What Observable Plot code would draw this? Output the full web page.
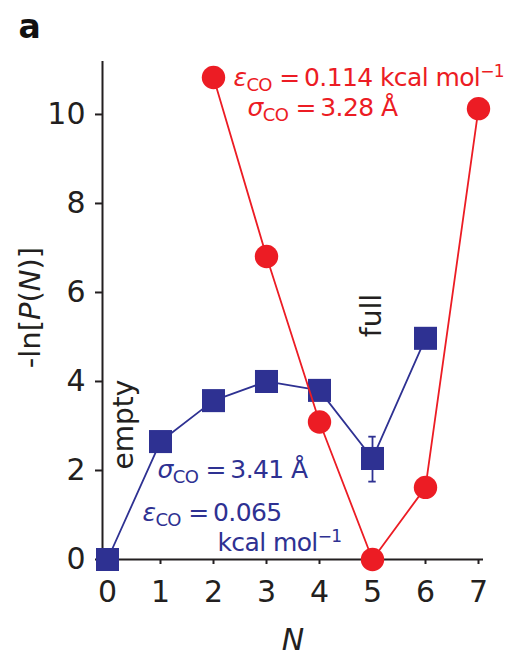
<!DOCTYPE html>
<html><head><meta charset="utf-8">
<script src="https://cdn.jsdelivr.net/npm/d3@7"></script>
<script src="https://cdn.jsdelivr.net/npm/@observablehq/plot@0.6"></script>
<style>html,body{margin:0;padding:0;background:#fff}svg{display:block}</style>
</head><body><div id="chart"></div>
<script>
// ---- data ----
const redN = [2, 3, 4, 5, 6, 7];
const redLnP = [10.83, 6.81, 3.09, 0.0, 1.62, 10.13];
const blueN = [0, 1, 2, 3, 4, 5, 6];
const blueLnP = [0.0, 2.65, 3.57, 4.0, 3.8, 2.27, 4.97];
const errN = [5];
const errLow = [1.75];
const errHigh = [2.76];
const xTicks = [0, 1, 2, 3, 4, 5, 6, 7];
const yTicks = [0, 2, 4, 6, 8, 10];
const redLabels = ["εCO = 0.114 kcal mol−1", "σCO = 3.28 Å"];
const blueLabels = ["σCO = 3.41 Å", "εCO = 0.065", "kcal mol−1"];
const stateLabels = ["empty", "full"];

// ---- styling ----
const RED = "#ec1c24", BLUE = "#2e3192", INK = "#231f20";
const FONT = "DejaVu Sans";

const red = redN.map((n, i) => ({N: n, v: redLnP[i]}));
const blue = blueN.map((n, i) => ({N: n, v: blueLnP[i]}));
const err = errN.map((n, i) => ({N: n, lo: errLow[i], hi: errHigh[i]}));

const xMin = -5 / 53, xMax = 7 + 5 / 53, yMax = 11.19;
const annot = {fontSize: 25, textAnchor: "start", lineAnchor: "bottom"};

const chart = Plot.plot({
  width: 518, height: 663,
  marginLeft: 102, marginRight: 35, marginTop: 61, marginBottom: 104,
  style: {fontFamily: FONT, background: "white", overflow: "visible"},
  x: {domain: [xMin, xMax]},
  y: {domain: [0, yMax]},
  marks: [
    Plot.axisY(yTicks, {tickSize: 7, tickPadding: 10, fontSize: 30, color: INK, strokeWidth: 2, label: null}),
    Plot.axisX(xTicks, {tickSize: 5, tickPadding: 16, fontSize: 30, color: INK, strokeWidth: 2, label: null}),
    Plot.ruleX([xMin], {stroke: INK, strokeWidth: 2}),
    Plot.ruleY([0], {stroke: INK, strokeWidth: 2}),
    // blue series
    Plot.line(blue, {x: "N", y: "v", stroke: BLUE, strokeWidth: 1.8}),
    Plot.ruleX(err, {x: "N", y1: "lo", y2: "hi", stroke: BLUE, strokeWidth: 1.8}),
    Plot.ruleY(err, {y: "lo", x1: d => d.N - 0.07, x2: d => d.N + 0.07, stroke: BLUE, strokeWidth: 1.8}),
    Plot.ruleY(err, {y: "hi", x1: d => d.N - 0.07, x2: d => d.N + 0.07, stroke: BLUE, strokeWidth: 1.8}),
    Plot.dot(blue, {x: "N", y: "v", symbol: "square", r: 13, fill: BLUE, stroke: null}),
    // red series
    Plot.line(red, {x: "N", y: "v", stroke: RED, strokeWidth: 1.8}),
    Plot.dot(red, {x: "N", y: "v", r: 11.7, fill: RED, stroke: null}),
    // annotations
    Plot.text([redLabels[0]], {x: 2.377, y: 10.65, text: d => d, fill: RED, ...annot}),
    Plot.text([redLabels[1]], {x: 2.64, y: 9.955, text: d => d, fill: RED, ...annot}),
    Plot.text([blueLabels[0]], {x: 0.943, y: 1.84, text: d => d, fill: BLUE, ...annot}),
    Plot.text([blueLabels[1]], {x: 0.66, y: 0.865, text: d => d, fill: BLUE, ...annot}),
    Plot.text([blueLabels[2]], {x: 2.075, y: 0.20, text: d => d, fill: BLUE, ...annot}),
    Plot.text([stateLabels[0]], {x: 0.31, y: 3.03, text: d => d, fill: INK, fontSize: 28, rotate: -90, textAnchor: "middle", lineAnchor: "middle"}),
    Plot.text([stateLabels[1]], {x: 5.0, y: 5.48, text: d => d, fill: INK, fontSize: 28, rotate: -90, textAnchor: "middle", lineAnchor: "middle"}),
    // axis titles and panel letter
    Plot.text(["N"], {frameAnchor: "bottom", dy: 81, text: d => d, fontSize: 30, fontStyle: "italic", fill: INK, lineAnchor: "middle"}),
    Plot.text(["-ln[P(N)]"], {frameAnchor: "left", dx: -72, dy: -3, rotate: -90, text: d => d, fontSize: 29, fill: INK, textAnchor: "middle", lineAnchor: "middle"}),
    Plot.text(["a"], {frameAnchor: "top-left", dx: -84, dy: -24, text: d => d, fontSize: 33, fontWeight: "bold", fill: "#111", textAnchor: "start", lineAnchor: "bottom"})
  ]
});

// rich-text formatting (italic symbols, subscripts, superscripts)
const richMap = {
  "εCO = 0.114 kcal mol−1": [["ε", "i"], ["CO", "sub"], [" =\u2009", ""], ["0.114 kcal mol", ""], ["−1", "sup"]],
  "σCO = 3.28 Å": [["σ", "i"], ["CO", "sub"], [" =\u2009", ""], ["3.28 Å", ""]],
  "σCO = 3.41 Å": [["σ", "i"], ["CO", "sub"], [" =\u2009", ""], ["3.41 Å", ""]],
  "εCO = 0.065": [["ε", "i"], ["CO", "sub"], [" =\u2009", ""], ["0.065", ""]],
  "kcal mol−1": [["kcal mol", ""], ["−1", "sup"]],
  "-ln[P(N)]": [["-ln[", ""], ["P", "i"], ["(", ""], ["N", "i"], [")]", ""]]
};
d3.select(chart).selectAll("text").each(function() {
  if (this.childElementCount) return;
  const key = this.textContent;
  const segs = richMap[key];
  if (!segs) return;
  const t = d3.select(this);
  t.text(null);
  if (key !== "-ln[P(N)]") t.attr("letter-spacing", "-0.6px");
  let shift = 0;
  for (const [s, kind] of segs) {
    const sp = t.append("tspan").text(s);
    let target = 0;
    if (kind === "sub") { target = 5; sp.attr("font-size", 18); }
    if (kind === "sup") { target = -9; sp.attr("font-size", 17); }
    if (kind === "i") sp.attr("font-style", "italic");
    if (target - shift !== 0) sp.attr("dy", target - shift);
    shift = target;
  }
});

document.getElementById("chart").appendChild(chart);
</script>
</body></html>
